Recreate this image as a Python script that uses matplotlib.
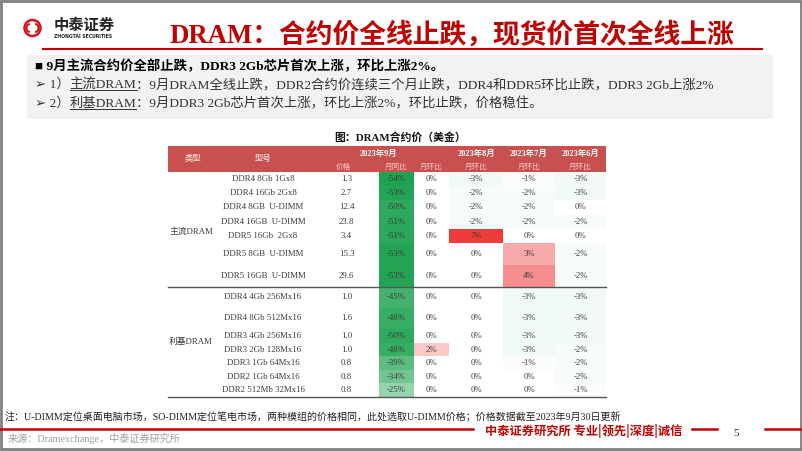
import matplotlib
matplotlib.use("Agg")
import matplotlib.pyplot as plt
from matplotlib.patches import Rectangle, Circle, Arc
from matplotlib.colors import LinearSegmentedColormap, TwoSlopeNorm

# fonts: Latin in serif, Chinese falls back to Noto CJK
SERIF = ["Liberation Serif", "Noto Sans CJK SC", "DejaVu Sans"]
SANS = ["Noto Sans CJK SC", "DejaVu Sans"]

# table data (contract price, USD)
groups = ["主流DRAM", "利基DRAM"]
models = ["DDR4 8Gb 1Gx8", "DDR4 16Gb 2Gx8", "DDR4 8GB  U-DIMM", "DDR4 16GB  U-DIMM",
          "DDR5 16Gb  2Gx8", "DDR5 8GB  U-DIMM", "DDR5 16GB  U-DIMM",
          "DDR4 4Gb 256Mx16", "DDR4 8Gb 512Mx16", "DDR3 4Gb 256Mx16", "DDR3 2Gb 128Mx16",
          "DDR3 1Gb 64Mx16", "DDR2 1Gb 64Mx16", "DDR2 512Mb 32Mx16"]
price = [1.3, 2.7, 12.4, 23.8, 3.4, 15.3, 29.6, 1.0, 1.6, 1.0, 1.0, 0.8, 0.8, 0.8]
yoy_sep = [-54, -53, -50, -51, -51, -53, -53, -45, -48, -50, -48, -39, -34, -25]
mom_sep = [0, 0, 0, 0, 0, 0, 0, 0, 0, 0, 2, 0, 0, 0]
mom_aug = [-3, -2, -2, -2, 7, 0, 0, 0, 0, 0, 0, 0, 0, 0]
mom_jul = [-1, -2, -2, -2, 0, 3, 4, -3, -3, -3, -3, -1, 0, 0]
mom_jun = [-3, -3, 0, -2, 0, -2, -2, -3, -3, -3, -2, -2, -2, -1]
month_heads = ["2023年9月", "2023年8月", "2023年7月", "2023年6月"]

title = "DRAM：合约价全线止跌，现货价首次全线上涨"
bullet1 = "■ 9月主流合约价全部止跌，DDR3 2Gb芯片首次上涨，环比上涨2%。"
bullet2 = [("➢ 1）", False), ("主流DRAM", True),
           ("：9月DRAM全线止跌，DDR2合约价连续三个月止跌，DDR4和DDR5环比止跌，DDR3 2Gb上涨2%", False)]
bullet3 = [("➢ 2）", False), ("利基DRAM", True),
           ("：9月DDR3 2Gb芯片首次上涨，环比上涨2%，环比止跌，价格稳住。", False)]
note = "注：U-DIMM定位桌面电脑市场，SO-DIMM定位笔电市场，两种模组的价格相同，此处选取U-DIMM价格；价格数据截至2023年9月30日更新"
source = "来源：Dramexchange，中泰证券研究所"
slogan = "中泰证券研究所 专业|领先|深度|诚信"

RED = "#C00000"

fig = plt.figure(figsize=(8.02, 4.51), dpi=100)
ax = fig.add_axes([0, 0, 1, 1])
ax.set_xlim(0, 802)
ax.set_ylim(451, 0)
ax.axis("off")
renderer = fig.canvas.get_renderer()

# slide frame
ax.add_patch(Rectangle((1, 1), 800, 448, fill=False, ec="#808080", lw=2))

# logo
ax.add_patch(Circle((32.5, 28), 8, fill=False, ec="#D7141A", lw=1.8))
ax.add_patch(Arc((30, 28), 7, 8, theta1=90, theta2=270, ec="#D7141A", lw=1.4))
ax.add_patch(Arc((35, 28), 7, 8, theta1=-90, theta2=90, ec="#D7141A", lw=1.4))
ax.text(54, 25, "中泰证券", family=SANS, fontsize=11, fontweight="bold", color="#222222", va="center")
ax.text(54, 36, "ZHONGTAI SECURITIES", family="DejaVu Sans", fontsize=3.3, fontweight="bold",
        color="#222222", va="center")

# title
ax.text(169, 35, title, family=SERIF, fontsize=19.3, fontweight="bold", color=RED, va="center")
ax.plot([43, 762], [49, 49], color=RED, lw=1.5)

# grey summary box
ax.add_patch(Rectangle((27, 55), 746, 64, color="#F2F2F2", lw=0))
ax.text(35, 70, bullet1, family=SERIF, fontsize=9.6, fontweight="bold", color="#000000", va="baseline")


def draw_runs(x, y, runs):
    for txt, ul in runs:
        t = ax.text(x, y, txt, family=SERIF, fontsize=9.6, color="#333333", va="baseline")
        w = t.get_window_extent(renderer=renderer).width
        if ul:
            ax.plot([x, x + w], [y + 2, y + 2], color="#333333", lw=0.7)
        x += w


draw_runs(35, 88, bullet2)
draw_runs(35, 107, bullet3)

# table
ax.text(400, 138, "图：DRAM合约价（美金）", family=SERIF, fontsize=7.8, fontweight="bold",
        color="#111111", ha="center", va="center")

col_edges = [168, 218, 308, 379, 414, 449, 503, 555, 606]
col_mid = [(a + b) / 2 for a, b in zip(col_edges[:-1], col_edges[1:])]
head_top, head_mid, head_bot = 146, 160, 172
ax.add_patch(Rectangle((col_edges[0], head_top), col_edges[-1] - col_edges[0],
                       head_bot - head_top, color="#C8504F", lw=0))
hcol = "#F6CACA"
ax.text(col_mid[0], (head_top + head_bot) / 2, "类型", family=SERIF, fontsize=6, fontweight="bold",
        color=hcol, ha="center", va="center")
ax.text(col_mid[1], (head_top + head_bot) / 2, "型号", family=SERIF, fontsize=6, fontweight="bold",
        color=hcol, ha="center", va="center")
top_y = (head_top + head_mid) / 2 + 0.5
bot_y = (head_mid + head_bot) / 2 + 0.5
ax.text((col_edges[2] + col_edges[5]) / 2, top_y, month_heads[0], family=SERIF, fontsize=6,
        fontweight="bold", color="white", ha="center", va="center")
for i, m in enumerate(month_heads[1:]):
    ax.text(col_mid[5 + i], top_y, m, family=SERIF, fontsize=6, fontweight="bold",
            color="white", ha="center", va="center")
for c, lab in zip(range(2, 8), ["价格", "月同比", "月环比", "月环比", "月环比", "月环比"]):
    ax.text(col_mid[c], bot_y, lab, family=SERIF, fontsize=5.5, color=hcol, ha="center", va="center")

row_h = [14.2] * 5 + [22, 22] + [21, 21, 14, 13.5, 13.5, 13.5, 13.5]
tops = [head_bot]
for h in row_h:
    tops.append(tops[-1] + h)

cmap = LinearSegmentedColormap.from_list("gwr", ["#1FA352", "#FFFFFF", "#F03B3B"])
norm = TwoSlopeNorm(vmin=min(yoy_sep), vcenter=0, vmax=max(mom_aug))
pct_cols = [yoy_sep, mom_sep, mom_aug, mom_jul, mom_jun]
tc = "#3A3A3A"
fs = 6.3
for r in range(len(models)):
    y0, y1 = tops[r], tops[r + 1]
    yc = (y0 + y1) / 2
    ax.text(col_mid[1], yc, models[r], family=SERIF, fontsize=fs, color=tc, ha="center", va="center")
    ax.text(col_mid[2] + 3, yc, f"{price[r]:.1f}", family=SERIF, fontsize=fs, color=tc,
            ha="center", va="center")
    for k, vals in enumerate(pct_cols):
        c = 3 + k
        v = vals[r]
        if v != 0:
            ax.add_patch(Rectangle((col_edges[c], y0), col_edges[c + 1] - col_edges[c], y1 - y0,
                                   color=cmap(norm(v)), lw=0))
        ax.text(col_mid[c], yc, f"{v}%", family=SERIF, fontsize=fs, color=tc, ha="center", va="center")

# group labels and separators
n_main = 7
ax.text(col_mid[0] - 2, (tops[0] + tops[n_main]) / 2 + 2, groups[0], family=SERIF, fontsize=fs,
        color=tc, ha="center", va="center")
ax.text(col_mid[0] - 2, (tops[n_main] + tops[-1]) / 2, groups[1], family=SERIF, fontsize=fs,
        color=tc, ha="center", va="center")
for y in (tops[n_main], tops[-1]):
    ax.plot([col_edges[0], col_edges[-1]], [y, y], color="#555555", lw=1)

# footer
ax.text(5, 417, note, family=SERIF, fontsize=7.2, color="#222222", va="center")
ax.plot([0, 473], [429, 429], color=RED, lw=1.8)
ax.text(485, 431, slogan, family=SANS, fontsize=8.8, fontweight="bold", color=RED, va="center")
ax.plot([692, 717], [429, 429], color=RED, lw=1.8)
ax.plot([765, 802], [429, 429], color=RED, lw=1.8)
ax.text(736, 434, "5", family=SERIF, fontsize=8, color="#222222", ha="center", va="center")
ax.text(8, 438, source, family=SERIF, fontsize=7.3, color="#A0A0A0", va="center")

fig.savefig("out.png", dpi=100, facecolor="white")
